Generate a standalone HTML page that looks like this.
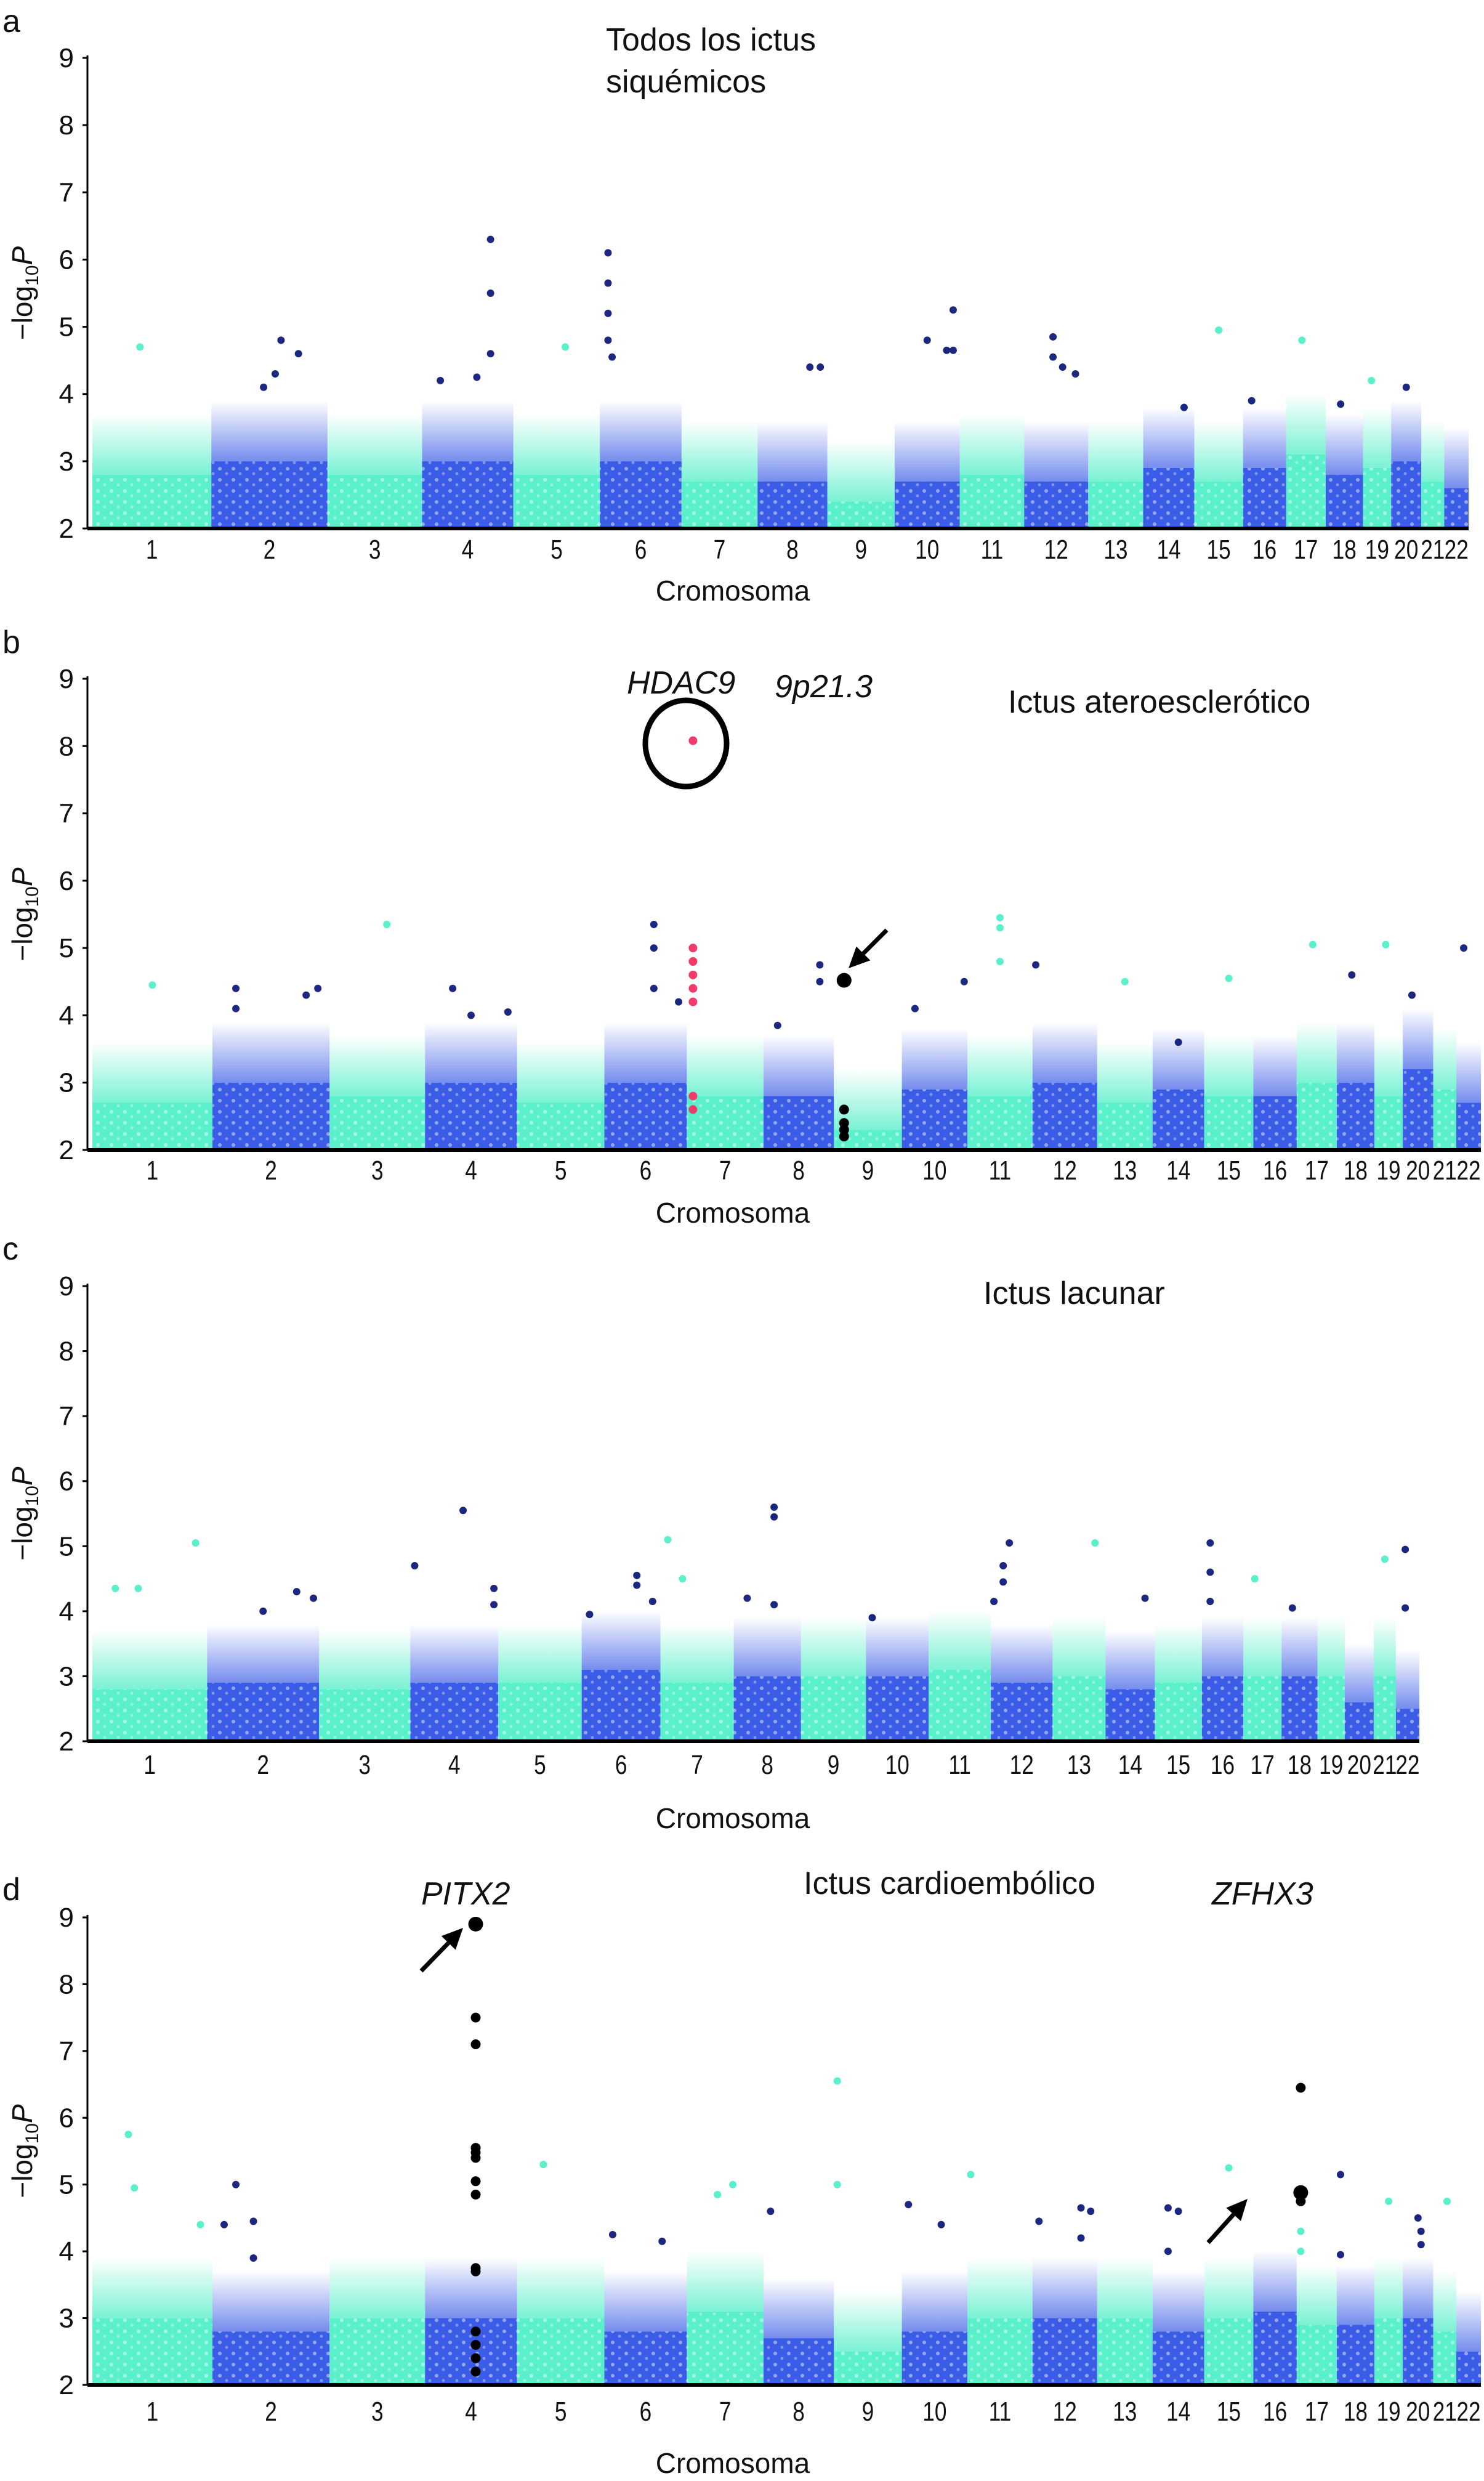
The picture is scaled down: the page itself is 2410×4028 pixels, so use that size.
<!DOCTYPE html>
<html><head><meta charset="utf-8"><style>
html,body{margin:0;padding:0;background:#fff}
svg{display:block}
text{font-family:"Liberation Sans",sans-serif;fill:#111}
</style></head><body>
<svg id="fig" width="2410" height="4028" viewBox="0 0 2410 4028" xmlns="http://www.w3.org/2000/svg">
<defs>
<linearGradient id="gc" x1="0" y1="1" x2="0" y2="0"><stop offset="0" stop-color="#4eeec6" stop-opacity="0.75"/><stop offset="1" stop-color="#4eeec6" stop-opacity="0"/></linearGradient>
<linearGradient id="gb" x1="0" y1="1" x2="0" y2="0"><stop offset="0" stop-color="#3a5ce6" stop-opacity="0.7"/><stop offset="1" stop-color="#3a5ce6" stop-opacity="0"/></linearGradient>
<pattern id="speck" width="22" height="18" patternUnits="userSpaceOnUse"><circle cx="5" cy="5" r="3" fill="#fff" opacity="0.45"/><circle cx="16" cy="13" r="2.5" fill="#fff" opacity="0.35"/></pattern>
</defs>
</svg>
<script>
const chrLabels=["1","2","3","4","5","6","7","8","9","10","11","12","13","14","15","16","17","18","19","20","21","22"];
const chrLengths=[249,243,198,191,181,171,159,146,141,136,135,134,115,107,102,90,83,78,59,63,48,51];
const yTicks=[2,3,4,5,6,7,8,9];
// dense block tops per chromosome
const denseA=[2.8,3.0,2.8,3.0,2.8,3.0,2.7,2.7,2.4,2.7,2.8,2.7,2.7,2.9,2.7,2.9,3.1,2.8,2.9,3.0,2.7,2.6];
const denseB=[2.7,3.0,2.8,3.0,2.7,3.0,2.8,2.8,2.3,2.9,2.8,3.0,2.7,2.9,2.8,2.8,3.0,3.0,2.8,3.2,2.9,2.7];
const denseC=[2.8,2.9,2.8,2.9,2.9,3.1,2.9,3.0,3.0,3.0,3.1,2.9,3.0,2.8,2.9,3.0,3.0,3.0,3.0,2.6,3.0,2.5];
const denseD=[3.0,2.8,3.0,3.0,3.0,2.8,3.1,2.7,2.5,2.8,3.0,3.0,3.0,2.8,3.0,3.1,2.9,2.9,3.0,3.0,2.8,2.5];
// peaks: [chromosome, fraction along chromosome, -log10P, colour code]
const peaksA=[[4,0.75,6.3,""],[4,0.75,5.5,""],[4,0.75,4.6,""],[4,0.6,4.25,""],[4,0.2,4.2,""],[6,0.1,6.1,""],[6,0.1,5.65,""],[6,0.1,5.2,""],[6,0.1,4.8,""],[6,0.15,4.55,""],[2,0.6,4.8,""],[2,0.75,4.6,""],[2,0.55,4.3,""],[2,0.45,4.1,""],[10,0.5,4.8,""],[10,0.9,5.25,""],[10,0.8,4.65,""],[10,0.9,4.65,""],[12,0.45,4.85,""],[12,0.45,4.55,""],[12,0.6,4.4,""],[12,0.8,4.3,""],[8,0.75,4.4,""],[8,0.9,4.4,""],[1,0.4,4.7,""],[15,0.5,4.95,""],[17,0.4,4.8,""],[5,0.6,4.7,""],[14,0.8,3.8,""],[20,0.5,4.1,""],[19,0.3,4.2,""],[16,0.2,3.9,""],[18,0.4,3.85,""]];
const peaksB=[[7,0.08,8.08,"r"],[7,0.08,5.0,"r"],[7,0.08,4.8,"r"],[7,0.08,4.6,"r"],[7,0.08,4.4,"r"],[7,0.08,4.2,"r"],[7,0.08,2.8,"r"],[7,0.08,2.6,"r"],[9,0.15,4.52,"K"],[9,0.15,2.6,"k"],[9,0.15,2.4,"k"],[9,0.15,2.3,"k"],[9,0.15,2.2,"k"],[6,0.6,5.35,""],[6,0.6,5.0,""],[6,0.6,4.4,""],[6,0.9,4.2,""],[2,0.2,4.4,""],[2,0.9,4.4,""],[2,0.8,4.3,""],[2,0.2,4.1,""],[3,0.6,5.35,""],[4,0.3,4.4,""],[4,0.5,4.0,""],[4,0.9,4.05,""],[8,0.8,4.75,""],[8,0.8,4.5,""],[8,0.2,3.85,""],[11,0.5,5.45,""],[11,0.5,5.3,""],[11,0.5,4.8,""],[10,0.95,4.5,""],[10,0.2,4.1,""],[12,0.05,4.75,""],[17,0.4,5.05,""],[19,0.4,5.05,""],[22,0.3,5.0,""],[18,0.4,4.6,""],[20,0.3,4.3,""],[1,0.5,4.45,""],[15,0.5,4.55,""],[13,0.5,4.5,""],[14,0.5,3.6,""]];
const peaksC=[[4,0.6,5.55,""],[4,0.05,4.7,""],[4,0.95,4.35,""],[4,0.95,4.1,""],[8,0.6,5.6,""],[8,0.6,5.45,""],[8,0.2,4.2,""],[8,0.6,4.1,""],[1,0.9,5.05,""],[1,0.2,4.35,""],[1,0.4,4.35,""],[7,0.1,5.1,""],[7,0.3,4.5,""],[12,0.3,5.05,""],[12,0.2,4.7,""],[12,0.2,4.45,""],[12,0.05,4.15,""],[13,0.8,5.05,""],[16,0.2,5.05,""],[16,0.2,4.6,""],[16,0.2,4.15,""],[17,0.3,4.5,""],[22,0.4,4.95,""],[22,0.4,4.05,""],[21,0.5,4.8,""],[6,0.7,4.55,""],[6,0.7,4.4,""],[6,0.9,4.15,""],[6,0.1,3.95,""],[2,0.8,4.3,""],[2,0.95,4.2,""],[2,0.5,4.0,""],[14,0.8,4.2,""],[18,0.3,4.05,""],[10,0.1,3.9,""]];
const peaksD=[[4,0.55,8.9,"K"],[4,0.55,7.5,"k"],[4,0.55,7.1,"k"],[4,0.55,5.55,"k"],[4,0.55,5.48,"k"],[4,0.55,5.4,"k"],[4,0.55,5.05,"k"],[4,0.55,4.85,"k"],[4,0.55,3.75,"k"],[4,0.55,3.7,"k"],[4,0.55,2.8,"k"],[4,0.55,2.6,"k"],[4,0.55,2.4,"k"],[4,0.55,2.2,"k"],[17,0.1,6.45,"k"],[17,0.1,4.88,"K"],[17,0.1,4.75,"k"],[17,0.1,4.3,""],[17,0.1,4.0,""],[1,0.3,5.75,""],[1,0.35,4.95,""],[1,0.9,4.4,""],[2,0.2,5.0,""],[2,0.35,4.45,""],[2,0.1,4.4,""],[2,0.35,3.9,""],[9,0.05,6.55,""],[9,0.05,5.0,""],[5,0.3,5.3,""],[11,0.05,5.15,""],[8,0.1,4.6,""],[10,0.1,4.7,""],[10,0.6,4.4,""],[12,0.75,4.65,""],[12,0.9,4.6,""],[12,0.1,4.45,""],[12,0.75,4.2,""],[14,0.3,4.65,""],[14,0.5,4.6,""],[14,0.3,4.0,""],[15,0.5,5.25,""],[18,0.1,5.15,""],[18,0.1,3.95,""],[19,0.5,4.75,""],[20,0.5,4.5,""],[20,0.6,4.3,""],[20,0.6,4.1,""],[21,0.6,4.75,""],[7,0.6,5.0,""],[7,0.4,4.85,""],[6,0.1,4.25,""],[6,0.7,4.15,""]];

const NS="http://www.w3.org/2000/svg";
const svg=document.getElementById('fig');
function el(tag,attrs,parent){const e=document.createElementNS(NS,tag);for(const k in attrs)e.setAttribute(k,attrs[k]);(parent||svg).appendChild(e);return e;}
const CYAN="#5af0cc", BLUE="#3a5ce6", NAVY="#1b2780";

function panel(cfg,dense,peaks){
  const g=el('g',{});
  
  
  const total=chrLengths.reduce((a,b)=>a+b,0);
  const xs=v=>cfg.x0+(v/total)*(cfg.x1-cfg.x0);
  const ys=v=>cfg.y2+(v-2)*(cfg.y9-cfg.y2)/7;
  let cum=0;
  chrLabels.forEach((lab,i)=>{
    const a=xs(cum), b=xs(cum+chrLengths[i]);
    const even=(i%2===1);
    const soft=el('rect',{x:a,y:ys(dense[i]+0.9),width:b-a,height:ys(dense[i])-ys(dense[i]+0.9),fill:even?'url(#gb)':'url(#gc)'},g);
    
    
    const r=el('rect',{x:a,y:ys(dense[i]),width:b-a,height:ys(2)-ys(dense[i]),fill:even?BLUE:CYAN},g);
    
    
    const sp=el('rect',{x:a,y:ys(dense[i]),width:b-a,height:ys(2)-ys(dense[i]),fill:'url(#speck)'},g);
    
    
    const t=el('text',{x:(a+b)/2,y:cfg.labY,'font-size':44,'text-anchor':'middle',transform:`translate(${(a+b)/2},0) scale(0.8,1) translate(${-(a+b)/2},0)`},g);
    t.textContent=lab;
    
    
    cum+=chrLengths[i];
  });
  const xl=el('line',{x1:cfg.ax,x2:cfg.x1,y1:ys(2),y2:ys(2),stroke:'#000','stroke-width':6},g);
  
  
  const yl=el('line',{x1:cfg.ax,x2:cfg.ax,y1:ys(9)-4,y2:ys(2),stroke:'#000','stroke-width':3},g);
  
  
  yTicks.forEach(v=>{
    const tk=el('line',{x1:cfg.ax-8,x2:cfg.ax,y1:ys(v),y2:ys(v),stroke:'#000','stroke-width':3},g);
    
    
    const tl=el('text',{x:cfg.ax-22,y:ys(v)+15,'font-size':44,'text-anchor':'end'},g);
    tl.textContent=v;
    
    
  });
  peaks.forEach(p=>{
    let cs=0;for(let k=0;k<p[0]-1;k++)cs+=chrLengths[k];
    const x=xs(cs+p[1]*chrLengths[p[0]-1]), y=ys(p[2]);
    const even=(p[0]%2===0);
    let fill=even?NAVY:CYAN, rad=6;
    if(p[3]==='r'){fill='#f03a6a';rad=7;}
    if(p[3]==='k'){fill='#000';rad=8;}
    if(p[3]==='K'){fill='#000';rad=12;}
    const c=el('circle',{cx:x,cy:y,r:rad,fill:fill},g);
    
    
  });
  const yt=el('text',{x:0,y:0,'font-size':46,'text-anchor':'middle',transform:`translate(52,${ys(5.5)}) rotate(-90)`},g);
  yt.innerHTML='−log<tspan font-size="30" dy="10">10</tspan><tspan dy="-10" font-style="italic">P</tspan>';
  
  
  const xt=el('text',{x:1190,y:cfg.xtY,'font-size':46,'text-anchor':'middle'},g);
  xt.textContent='Cromosoma';
  
  
  const pl=el('text',{x:4,y:cfg.letterY,'font-size':52},g);
  pl.textContent=cfg.id;
  
  
  return {g,xs,ys};
}
function txt(s,x,y,size,name,italic){
  const t=el('text',{x:x,y:y,'font-size':size});
  if(italic)t.setAttribute('font-style','italic');
  t.textContent=s;
  
  
  return t;
}
function arrow(x1,y1,x2,y2,name){
  const a=el('g',{});
  
  
  const ang=Math.atan2(y2-y1,x2-x1), L=34, W=16;
  const bx=x2-L*Math.cos(ang), by=y2-L*Math.sin(ang);
  el('line',{x1:x1,y1:y1,x2:bx,y2:by,stroke:'#000','stroke-width':7},a);
  el('polygon',{points:`${x2},${y2} ${bx+W*Math.sin(ang)},${by-W*Math.cos(ang)} ${bx-W*Math.sin(ang)},${by+W*Math.cos(ang)}`,fill:'#000'},a);
}

panel({id:'a',ax:142,x0:150,x1:2385,y9:94,y2:858,labY:907,xtY:975,letterY:52},denseA,peaksA);
txt('Todos los ictus',984,82,52,'panel-a-title-line1');
txt('siquémicos',984,150,52,'panel-a-title-line2');

panel({id:'b',ax:142,x0:150,x1:2405,y9:1102,y2:1867,labY:1915,xtY:1985,letterY:1060},denseB,peaksB);
txt('Ictus ateroesclerótico',1637,1157,52,'panel-b-title');
txt('HDAC9',1018,1126,52,'hdac9-label',true);
txt('9p21.3',1258,1132,52,'9p21-label',true);
const circ=el('ellipse',{cx:1114,cy:1207,rx:66,ry:70,fill:'none',stroke:'#000','stroke-width':9});


arrow(1440,1510,1378,1572,'9p21-arrow');

panel({id:'c',ax:142,x0:150,x1:2305,y9:2088,y2:2827,labY:2880,xtY:2968,letterY:2045},denseC,peaksC);
txt('Ictus lacunar',1597,2117,52,'panel-c-title');

panel({id:'d',ax:142,x0:150,x1:2405,y9:3113,y2:3872,labY:3930,xtY:4015,letterY:3085},denseD,peaksD);
txt('Ictus cardioembólico',1305,3075,52,'panel-d-title');
txt('PITX2',684,3092,52,'pitx2-label',true);
txt('ZFHX3',1968,3092,52,'zfhx3-label',true);
arrow(684,3200,752,3130,'pitx2-arrow');
arrow(1962,3641,2026,3570,'zfhx3-arrow');
</script>
</body></html>
